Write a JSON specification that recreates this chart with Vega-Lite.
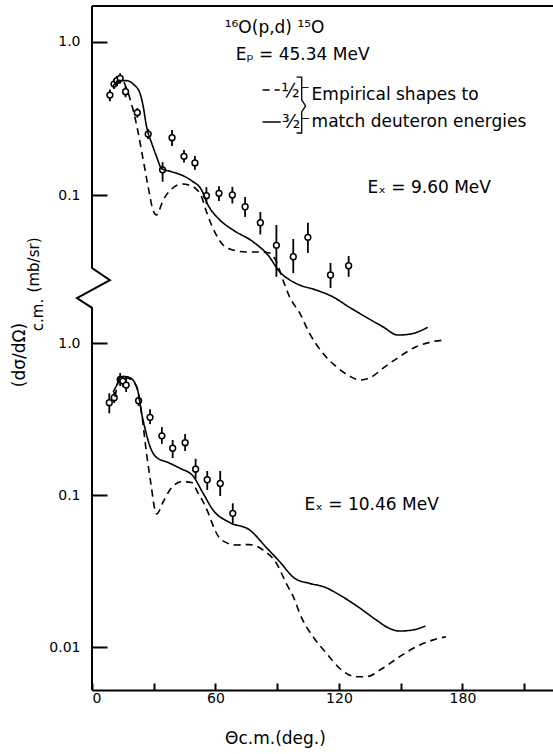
{
  "$schema": "https://vega.github.io/schema/vega-lite/v6.json",
  "width": 461,
  "height": 684,
  "autosize": "none",
  "padding": {"left": 92, "top": 6, "right": 0, "bottom": 64},
  "background": "white",
  "config": {
    "view": {"stroke": null},
    "font": "DejaVu Sans",
    "axis": {"labelColor": "black", "tickColor": "black", "domainColor": "black", "titleColor": "black", "grid": false, "labelFont": "DejaVu Sans", "titleFont": "DejaVu Sans"}
  },
  "datasets": {
    "topPts": [
      {"theta": 8.7, "ds": 0.45, "lo": 0.41, "hi": 0.49},
      {"theta": 10.7, "ds": 0.531, "lo": 0.493, "hi": 0.573},
      {"theta": 12.1, "ds": 0.559, "lo": 0.515, "hi": 0.6},
      {"theta": 13.7, "ds": 0.579, "lo": 0.535, "hi": 0.625},
      {"theta": 16.3, "ds": 0.473, "lo": 0.435, "hi": 0.515},
      {"theta": 22.0, "ds": 0.345, "lo": 0.32, "hi": 0.37},
      {"theta": 27.3, "ds": 0.25, "lo": 0.232, "hi": 0.27},
      {"theta": 34.3, "ds": 0.146, "lo": 0.122, "hi": 0.164},
      {"theta": 38.9, "ds": 0.237, "lo": 0.209, "hi": 0.266},
      {"theta": 44.7, "ds": 0.179, "lo": 0.163, "hi": 0.197},
      {"theta": 50.0, "ds": 0.162, "lo": 0.146, "hi": 0.18},
      {"theta": 55.6, "ds": 0.099, "lo": 0.0875, "hi": 0.1126},
      {"theta": 61.7, "ds": 0.1026, "lo": 0.0914, "hi": 0.114},
      {"theta": 68.2, "ds": 0.1, "lo": 0.088, "hi": 0.113},
      {"theta": 74.4, "ds": 0.0838, "lo": 0.0719, "hi": 0.097},
      {"theta": 81.8, "ds": 0.0659, "lo": 0.0552, "hi": 0.0775},
      {"theta": 89.6, "ds": 0.0469, "lo": 0.0292, "hi": 0.0637},
      {"theta": 97.8, "ds": 0.0395, "lo": 0.0309, "hi": 0.0516},
      {"theta": 104.9, "ds": 0.0529, "lo": 0.0418, "hi": 0.0659},
      {"theta": 115.9, "ds": 0.03, "lo": 0.0247, "hi": 0.036},
      {"theta": 124.7, "ds": 0.0345, "lo": 0.0292, "hi": 0.0399}
    ],
    "botPts": [
      {"theta": 8.4, "ds": 0.405, "lo": 0.345, "hi": 0.467},
      {"theta": 10.8, "ds": 0.437, "lo": 0.403, "hi": 0.476},
      {"theta": 13.7, "ds": 0.577, "lo": 0.521, "hi": 0.635},
      {"theta": 15.0, "ds": 0.562, "lo": 0.515, "hi": 0.61},
      {"theta": 16.6, "ds": 0.529, "lo": 0.476, "hi": 0.589},
      {"theta": 22.65, "ds": 0.417, "lo": 0.385, "hi": 0.45},
      {"theta": 28.2, "ds": 0.3245, "lo": 0.293, "hi": 0.367},
      {"theta": 33.95, "ds": 0.245, "lo": 0.217, "hi": 0.28},
      {"theta": 39.2, "ds": 0.203, "lo": 0.175, "hi": 0.23},
      {"theta": 45.25, "ds": 0.221, "lo": 0.195, "hi": 0.252},
      {"theta": 50.35, "ds": 0.148, "lo": 0.128, "hi": 0.173},
      {"theta": 56.0, "ds": 0.126, "lo": 0.108, "hi": 0.144},
      {"theta": 62.3, "ds": 0.119, "lo": 0.0985, "hi": 0.144},
      {"theta": 68.4, "ds": 0.0758, "lo": 0.0653, "hi": 0.0882}
    ],
    "topCurves": [
      {"theta": 10.3, "ds": 0.516, "shape": "3/2-"},
      {"theta": 12.8, "ds": 0.559, "shape": "3/2-"},
      {"theta": 16.8, "ds": 0.559, "shape": "3/2-"},
      {"theta": 20.0, "ds": 0.531, "shape": "3/2-"},
      {"theta": 23.3, "ds": 0.462, "shape": "3/2-"},
      {"theta": 24.9, "ds": 0.378, "shape": "3/2-"},
      {"theta": 26.5, "ds": 0.28, "shape": "3/2-"},
      {"theta": 29.0, "ds": 0.218, "shape": "3/2-"},
      {"theta": 31.4, "ds": 0.178, "shape": "3/2-"},
      {"theta": 33.8, "ds": 0.149, "shape": "3/2-"},
      {"theta": 38.7, "ds": 0.142, "shape": "3/2-"},
      {"theta": 43.5, "ds": 0.135, "shape": "3/2-"},
      {"theta": 48.4, "ds": 0.124, "shape": "3/2-"},
      {"theta": 53.2, "ds": 0.108, "shape": "3/2-"},
      {"theta": 56.4, "ds": 0.086, "shape": "3/2-"},
      {"theta": 62.1, "ds": 0.0687, "shape": "3/2-"},
      {"theta": 68.5, "ds": 0.0591, "shape": "3/2-"},
      {"theta": 78.2, "ds": 0.0495, "shape": "3/2-"},
      {"theta": 85.5, "ds": 0.0405, "shape": "3/2-"},
      {"theta": 91.2, "ds": 0.0315, "shape": "3/2-"},
      {"theta": 97.6, "ds": 0.0271, "shape": "3/2-"},
      {"theta": 100.9, "ds": 0.0258, "shape": "3/2-"},
      {"theta": 109.0, "ds": 0.0239, "shape": "3/2-"},
      {"theta": 117.0, "ds": 0.0216, "shape": "3/2-"},
      {"theta": 125.1, "ds": 0.01845, "shape": "3/2-"},
      {"theta": 133.2, "ds": 0.0159, "shape": "3/2-"},
      {"theta": 141.3, "ds": 0.01378, "shape": "3/2-"},
      {"theta": 148.6, "ds": 0.01216, "shape": "3/2-"},
      {"theta": 154.2, "ds": 0.0123, "shape": "3/2-"},
      {"theta": 163.1, "ds": 0.01365, "shape": "3/2-"},
      {"theta": 11.2, "ds": 0.523, "shape": "1/2-"},
      {"theta": 14.4, "ds": 0.565, "shape": "1/2-"},
      {"theta": 17.6, "ds": 0.462, "shape": "1/2-"},
      {"theta": 20.0, "ds": 0.359, "shape": "1/2-"},
      {"theta": 22.5, "ds": 0.253, "shape": "1/2-"},
      {"theta": 24.9, "ds": 0.169, "shape": "1/2-"},
      {"theta": 27.3, "ds": 0.113, "shape": "1/2-"},
      {"theta": 29.6, "ds": 0.08, "shape": "1/2-"},
      {"theta": 31.3, "ds": 0.074, "shape": "1/2-"},
      {"theta": 34.6, "ds": 0.0927, "shape": "1/2-"},
      {"theta": 38.7, "ds": 0.1095, "shape": "1/2-"},
      {"theta": 43.5, "ds": 0.118, "shape": "1/2-"},
      {"theta": 48.4, "ds": 0.1145, "shape": "1/2-"},
      {"theta": 53.2, "ds": 0.0975, "shape": "1/2-"},
      {"theta": 55.6, "ds": 0.0778, "shape": "1/2-"},
      {"theta": 58.8, "ds": 0.0606, "shape": "1/2-"},
      {"theta": 63.7, "ds": 0.0471, "shape": "1/2-"},
      {"theta": 68.5, "ds": 0.0437, "shape": "1/2-"},
      {"theta": 75.0, "ds": 0.0424, "shape": "1/2-"},
      {"theta": 81.5, "ds": 0.0424, "shape": "1/2-"},
      {"theta": 86.3, "ds": 0.0418, "shape": "1/2-"},
      {"theta": 89.6, "ds": 0.0367, "shape": "1/2-"},
      {"theta": 92.8, "ds": 0.0278, "shape": "1/2-"},
      {"theta": 96.0, "ds": 0.0216, "shape": "1/2-"},
      {"theta": 100.9, "ds": 0.01694, "shape": "1/2-"},
      {"theta": 105.7, "ds": 0.01248, "shape": "1/2-"},
      {"theta": 112.2, "ds": 0.00923, "shape": "1/2-"},
      {"theta": 118.7, "ds": 0.00755, "shape": "1/2-"},
      {"theta": 125.1, "ds": 0.00656, "shape": "1/2-"},
      {"theta": 130.0, "ds": 0.00618, "shape": "1/2-"},
      {"theta": 135.8, "ds": 0.00646, "shape": "1/2-"},
      {"theta": 141.3, "ds": 0.00737, "shape": "1/2-"},
      {"theta": 149.4, "ds": 0.00877, "shape": "1/2-"},
      {"theta": 157.5, "ds": 0.0102, "shape": "1/2-"},
      {"theta": 165.5, "ds": 0.011, "shape": "1/2-"},
      {"theta": 171.2, "ds": 0.01128, "shape": "1/2-"}
    ],
    "botCurves": [
      {"theta": 10.3, "ds": 0.476, "shape": "3/2-"},
      {"theta": 12.0, "ds": 0.529, "shape": "3/2-"},
      {"theta": 13.6, "ds": 0.5945, "shape": "3/2-"},
      {"theta": 16.0, "ds": 0.602, "shape": "3/2-"},
      {"theta": 18.9, "ds": 0.586, "shape": "3/2-"},
      {"theta": 20.9, "ds": 0.543, "shape": "3/2-"},
      {"theta": 22.5, "ds": 0.469, "shape": "3/2-"},
      {"theta": 24.1, "ds": 0.345, "shape": "3/2-"},
      {"theta": 25.7, "ds": 0.276, "shape": "3/2-"},
      {"theta": 28.1, "ds": 0.21, "shape": "3/2-"},
      {"theta": 31.4, "ds": 0.1766, "shape": "3/2-"},
      {"theta": 37.0, "ds": 0.1637, "shape": "3/2-"},
      {"theta": 42.7, "ds": 0.15, "shape": "3/2-"},
      {"theta": 49.1, "ds": 0.1333, "shape": "3/2-"},
      {"theta": 54.0, "ds": 0.1026, "shape": "3/2-"},
      {"theta": 58.8, "ds": 0.0797, "shape": "3/2-"},
      {"theta": 66.9, "ds": 0.0659, "shape": "3/2-"},
      {"theta": 76.6, "ds": 0.0589, "shape": "3/2-"},
      {"theta": 84.7, "ds": 0.0452, "shape": "3/2-"},
      {"theta": 91.2, "ds": 0.0364, "shape": "3/2-"},
      {"theta": 98.5, "ds": 0.0283, "shape": "3/2-"},
      {"theta": 105.8, "ds": 0.0262, "shape": "3/2-"},
      {"theta": 113.0, "ds": 0.0248, "shape": "3/2-"},
      {"theta": 120.3, "ds": 0.022, "shape": "3/2-"},
      {"theta": 130.0, "ds": 0.0181, "shape": "3/2-"},
      {"theta": 138.1, "ds": 0.01507, "shape": "3/2-"},
      {"theta": 144.5, "ds": 0.01327, "shape": "3/2-"},
      {"theta": 149.4, "ds": 0.01274, "shape": "3/2-"},
      {"theta": 155.8, "ds": 0.01294, "shape": "3/2-"},
      {"theta": 162.0, "ds": 0.01375, "shape": "3/2-"},
      {"theta": 11.2, "ds": 0.443, "shape": "1/2-"},
      {"theta": 12.8, "ds": 0.556, "shape": "1/2-"},
      {"theta": 14.4, "ds": 0.5945, "shape": "1/2-"},
      {"theta": 17.6, "ds": 0.586, "shape": "1/2-"},
      {"theta": 21.7, "ds": 0.516, "shape": "1/2-"},
      {"theta": 24.1, "ds": 0.345, "shape": "1/2-"},
      {"theta": 26.5, "ds": 0.188, "shape": "1/2-"},
      {"theta": 28.6, "ds": 0.1194, "shape": "1/2-"},
      {"theta": 30.6, "ds": 0.0797, "shape": "1/2-"},
      {"theta": 31.4, "ds": 0.075, "shape": "1/2-"},
      {"theta": 34.6, "ds": 0.0903, "shape": "1/2-"},
      {"theta": 37.8, "ds": 0.1078, "shape": "1/2-"},
      {"theta": 43.5, "ds": 0.1223, "shape": "1/2-"},
      {"theta": 48.4, "ds": 0.1208, "shape": "1/2-"},
      {"theta": 51.6, "ds": 0.1026, "shape": "1/2-"},
      {"theta": 54.8, "ds": 0.0859, "shape": "1/2-"},
      {"theta": 57.2, "ds": 0.072, "shape": "1/2-"},
      {"theta": 59.7, "ds": 0.0589, "shape": "1/2-"},
      {"theta": 62.9, "ds": 0.0506, "shape": "1/2-"},
      {"theta": 70.2, "ds": 0.0469, "shape": "1/2-"},
      {"theta": 76.6, "ds": 0.0472, "shape": "1/2-"},
      {"theta": 83.1, "ds": 0.0435, "shape": "1/2-"},
      {"theta": 89.6, "ds": 0.0356, "shape": "1/2-"},
      {"theta": 94.4, "ds": 0.0262, "shape": "1/2-"},
      {"theta": 98.5, "ds": 0.0204, "shape": "1/2-"},
      {"theta": 100.9, "ds": 0.01667, "shape": "1/2-"},
      {"theta": 107.4, "ds": 0.01169, "shape": "1/2-"},
      {"theta": 113.9, "ds": 0.0091, "shape": "1/2-"},
      {"theta": 120.3, "ds": 0.00725, "shape": "1/2-"},
      {"theta": 128.4, "ds": 0.00638, "shape": "1/2-"},
      {"theta": 133.2, "ds": 0.00638, "shape": "1/2-"},
      {"theta": 141.3, "ds": 0.00725, "shape": "1/2-"},
      {"theta": 149.4, "ds": 0.00863, "shape": "1/2-"},
      {"theta": 157.5, "ds": 0.01004, "shape": "1/2-"},
      {"theta": 165.5, "ds": 0.0111, "shape": "1/2-"},
      {"theta": 172.0, "ds": 0.01169, "shape": "1/2-"}
    ],
    "legendLines": [
      {"theta": 82.9, "ds": 0.486, "shape": "1/2-"},
      {"theta": 91.2, "ds": 0.486, "shape": "1/2-"},
      {"theta": 82.9, "ds": 0.3, "shape": "3/2-"},
      {"theta": 91.7, "ds": 0.3, "shape": "3/2-"}
    ],
    "frame": [
      {"seg": "axis", "k": 0, "theta": 0, "ds": 1.7188},
      {"seg": "axis", "k": 1, "theta": 0, "ds": 0.0333},
      {"seg": "axis", "k": 2, "theta": 8.7, "ds": 0.0278},
      {"seg": "axis", "k": 3, "theta": -7.3, "ds": 0.0212},
      {"seg": "axis", "k": 4, "theta": 0, "ds": 0.0183},
      {"seg": "axis", "k": 5, "theta": 0, "ds": 0.0000582},
      {"seg": "border", "k": 0, "theta": 0, "ds": 1.7188},
      {"seg": "border", "k": 1, "theta": 224, "ds": 1.7188}
    ],
    "brace": [
      {"k": 0, "theta": 99.4, "ds": 0.59},
      {"k": 1, "theta": 101.9, "ds": 0.59},
      {"k": 2, "theta": 101.9, "ds": 0.418},
      {"k": 3, "theta": 103.8, "ds": 0.382},
      {"k": 4, "theta": 101.9, "ds": 0.3487},
      {"k": 5, "theta": 101.9, "ds": 0.2542},
      {"k": 6, "theta": 99.4, "ds": 0.2542}
    ],
    "notesTop": [
      {"theta": 64.5, "ds": 1.235, "label": "¹⁶O(p,d) ¹⁵O"},
      {"theta": 69.8, "ds": 0.822, "label": "Eₚ = 45.34 MeV"},
      {"theta": 106.7, "ds": 0.45, "label": "Empirical shapes to"},
      {"theta": 106.7, "ds": 0.3, "label": "match  deuteron energies"},
      {"theta": 133.9, "ds": 0.111, "label": "Eₓ = 9.60  MeV"}
    ],
    "fractions": [
      {"theta": 92.0, "ds": 0.48, "label": "½⁻"},
      {"theta": 92.3, "ds": 0.3, "label": "³⁄₂⁻"}
    ],
    "yTitleMain": [
      {"theta": -34.9, "ds": 0.009, "label": "(dσ/dΩ)"}
    ],
    "yTitleSub": [
      {"theta": -26.2, "ds": 0.01643, "label": "c.m."},
      {"theta": -28.1, "ds": 0.0349, "label": "(mb/sr)"}
    ],
    "notesBot": [
      {"theta": 103.3, "ds": 0.0859, "label": "Eₓ = 10.46 MeV"}
    ]
  },
  "layer": [
    {
      "layer": [
        {
          "data": {"name": "topPts"},
          "mark": {"type": "rule", "strokeWidth": 1.8, "color": "black"},
          "encoding": {
            "x": {"field": "theta", "type": "quantitative", "scale": {"domain": [0, 224], "nice": false, "zero": false},
              "axis": {"orient": "bottom", "values": [0, 30, 60, 90, 120, 150, 180, 210], "labelExpr": "datum.value % 60 == 0 ? datum.label : ''", "tickSize": -7, "tickWidth": 2, "domainWidth": 2, "labelFontSize": 14, "labelPadding": 8, "title": "Θc.m.(deg.)", "titleFontSize": 17, "titleFontWeight": "normal", "titleX": 183, "titleY": 48, "titleBaseline": "middle"}},
            "y": {"field": "lo", "type": "quantitative", "scale": {"type": "log", "domain": [0.0000582, 1.7188], "nice": false},
              "axis": {"orient": "left", "values": [1, 0.1], "labelExpr": "datum.value == 1 ? '1.0' : '0.1'", "tickSize": -15, "tickWidth": 2, "domain": false, "labelPadding": 27, "labelFontSize": 14, "title": null}},
            "y2": {"field": "hi"}
          }
        },
        {
          "data": {"name": "topPts"},
          "mark": {"type": "point", "shape": "circle", "filled": true, "fill": "white", "stroke": "black", "strokeWidth": 1.5, "size": 34, "opacity": 1},
          "encoding": {
            "x": {"field": "theta", "type": "quantitative", "scale": {"domain": [0, 224], "nice": false, "zero": false}},
            "y": {"field": "ds", "type": "quantitative", "scale": {"type": "log", "domain": [0.0000582, 1.7188], "nice": false}}
          }
        },
        {
          "data": {"name": "topCurves"},
          "mark": {"type": "line", "color": "black", "strokeWidth": 1.6, "interpolate": "monotone"},
          "encoding": {
            "x": {"field": "theta", "type": "quantitative", "scale": {"domain": [0, 224], "nice": false, "zero": false}},
            "y": {"field": "ds", "type": "quantitative", "scale": {"type": "log", "domain": [0.0000582, 1.7188], "nice": false}},
            "strokeDash": {"field": "shape", "type": "nominal", "scale": {"domain": ["1/2-", "3/2-"], "range": [[7, 5], [1, 0]]}, "legend": null}
          }
        },
        {
          "data": {"name": "legendLines"},
          "mark": {"type": "line", "color": "black", "strokeWidth": 1.6},
          "encoding": {
            "x": {"field": "theta", "type": "quantitative", "scale": {"domain": [0, 224], "nice": false, "zero": false}},
            "y": {"field": "ds", "type": "quantitative", "scale": {"type": "log", "domain": [0.0000582, 1.7188], "nice": false}},
            "strokeDash": {"field": "shape", "type": "nominal", "scale": {"domain": ["1/2-", "3/2-"], "range": [[7, 5], [1, 0]]}, "legend": null}
          }
        },
        {
          "data": {"name": "frame"},
          "mark": {"type": "line", "color": "black", "strokeWidth": 2},
          "encoding": {
            "x": {"field": "theta", "type": "quantitative", "scale": {"domain": [0, 224], "nice": false, "zero": false}},
            "y": {"field": "ds", "type": "quantitative", "scale": {"type": "log", "domain": [0.0000582, 1.7188], "nice": false}},
            "detail": {"field": "seg", "type": "nominal"},
            "order": {"field": "k", "type": "quantitative"}
          }
        },
        {
          "data": {"name": "brace"},
          "mark": {"type": "line", "color": "black", "strokeWidth": 1.3},
          "encoding": {
            "x": {"field": "theta", "type": "quantitative", "scale": {"domain": [0, 224], "nice": false, "zero": false}},
            "y": {"field": "ds", "type": "quantitative", "scale": {"type": "log", "domain": [0.0000582, 1.7188], "nice": false}},
            "order": {"field": "k", "type": "quantitative"}
          }
        },
        {
          "data": {"name": "notesTop"},
          "mark": {"type": "text", "align": "left", "baseline": "middle", "fontSize": 17, "color": "black"},
          "encoding": {
            "x": {"field": "theta", "type": "quantitative", "scale": {"domain": [0, 224], "nice": false, "zero": false}},
            "y": {"field": "ds", "type": "quantitative", "scale": {"type": "log", "domain": [0.0000582, 1.7188], "nice": false}},
            "text": {"field": "label", "type": "nominal"}
          }
        },
        {
          "data": {"name": "fractions"},
          "mark": {"type": "text", "align": "left", "baseline": "middle", "fontSize": 19, "color": "black"},
          "encoding": {
            "x": {"field": "theta", "type": "quantitative", "scale": {"domain": [0, 224], "nice": false, "zero": false}},
            "y": {"field": "ds", "type": "quantitative", "scale": {"type": "log", "domain": [0.0000582, 1.7188], "nice": false}},
            "text": {"field": "label", "type": "nominal"}
          }
        },
        {
          "data": {"name": "yTitleMain"},
          "mark": {"type": "text", "align": "center", "baseline": "middle", "fontSize": 17, "angle": 270, "color": "black"},
          "encoding": {
            "x": {"field": "theta", "type": "quantitative", "scale": {"domain": [0, 224], "nice": false, "zero": false}},
            "y": {"field": "ds", "type": "quantitative", "scale": {"type": "log", "domain": [0.0000582, 1.7188], "nice": false}},
            "text": {"field": "label", "type": "nominal"}
          }
        },
        {
          "data": {"name": "yTitleSub"},
          "mark": {"type": "text", "align": "center", "baseline": "middle", "fontSize": 15, "angle": 270, "color": "black"},
          "encoding": {
            "x": {"field": "theta", "type": "quantitative", "scale": {"domain": [0, 224], "nice": false, "zero": false}},
            "y": {"field": "ds", "type": "quantitative", "scale": {"type": "log", "domain": [0.0000582, 1.7188], "nice": false}},
            "text": {"field": "label", "type": "nominal"}
          }
        }
      ]
    },
    {
      "layer": [
        {
          "data": {"name": "botPts"},
          "mark": {"type": "rule", "strokeWidth": 1.8, "color": "black"},
          "encoding": {
            "x": {"field": "theta", "type": "quantitative", "scale": {"domain": [0, 224], "nice": false, "zero": false}},
            "y": {"field": "lo", "type": "quantitative", "scale": {"type": "log", "domain": [0.005215, 164.9], "nice": false},
              "axis": {"orient": "left", "values": [1, 0.1, 0.01], "labelExpr": "datum.value == 1 ? '1.0' : (datum.value == 0.1 ? '0.1' : '0.01')", "tickSize": -15, "tickWidth": 2, "domain": false, "labelPadding": 27, "labelFontSize": 14, "title": null}},
            "y2": {"field": "hi"}
          }
        },
        {
          "data": {"name": "botPts"},
          "mark": {"type": "point", "shape": "circle", "filled": true, "fill": "white", "stroke": "black", "strokeWidth": 1.5, "size": 34, "opacity": 1},
          "encoding": {
            "x": {"field": "theta", "type": "quantitative", "scale": {"domain": [0, 224], "nice": false, "zero": false}},
            "y": {"field": "ds", "type": "quantitative", "scale": {"type": "log", "domain": [0.005215, 164.9], "nice": false}}
          }
        },
        {
          "data": {"name": "botCurves"},
          "mark": {"type": "line", "color": "black", "strokeWidth": 1.6, "interpolate": "monotone"},
          "encoding": {
            "x": {"field": "theta", "type": "quantitative", "scale": {"domain": [0, 224], "nice": false, "zero": false}},
            "y": {"field": "ds", "type": "quantitative", "scale": {"type": "log", "domain": [0.005215, 164.9], "nice": false}},
            "strokeDash": {"field": "shape", "type": "nominal", "scale": {"domain": ["1/2-", "3/2-"], "range": [[7, 5], [1, 0]]}, "legend": null}
          }
        },
        {
          "data": {"name": "notesBot"},
          "mark": {"type": "text", "align": "left", "baseline": "middle", "fontSize": 17, "color": "black"},
          "encoding": {
            "x": {"field": "theta", "type": "quantitative", "scale": {"domain": [0, 224], "nice": false, "zero": false}},
            "y": {"field": "ds", "type": "quantitative", "scale": {"type": "log", "domain": [0.005215, 164.9], "nice": false}},
            "text": {"field": "label", "type": "nominal"}
          }
        }
      ]
    }
  ],
  "resolve": {"scale": {"y": "independent"}}
}
